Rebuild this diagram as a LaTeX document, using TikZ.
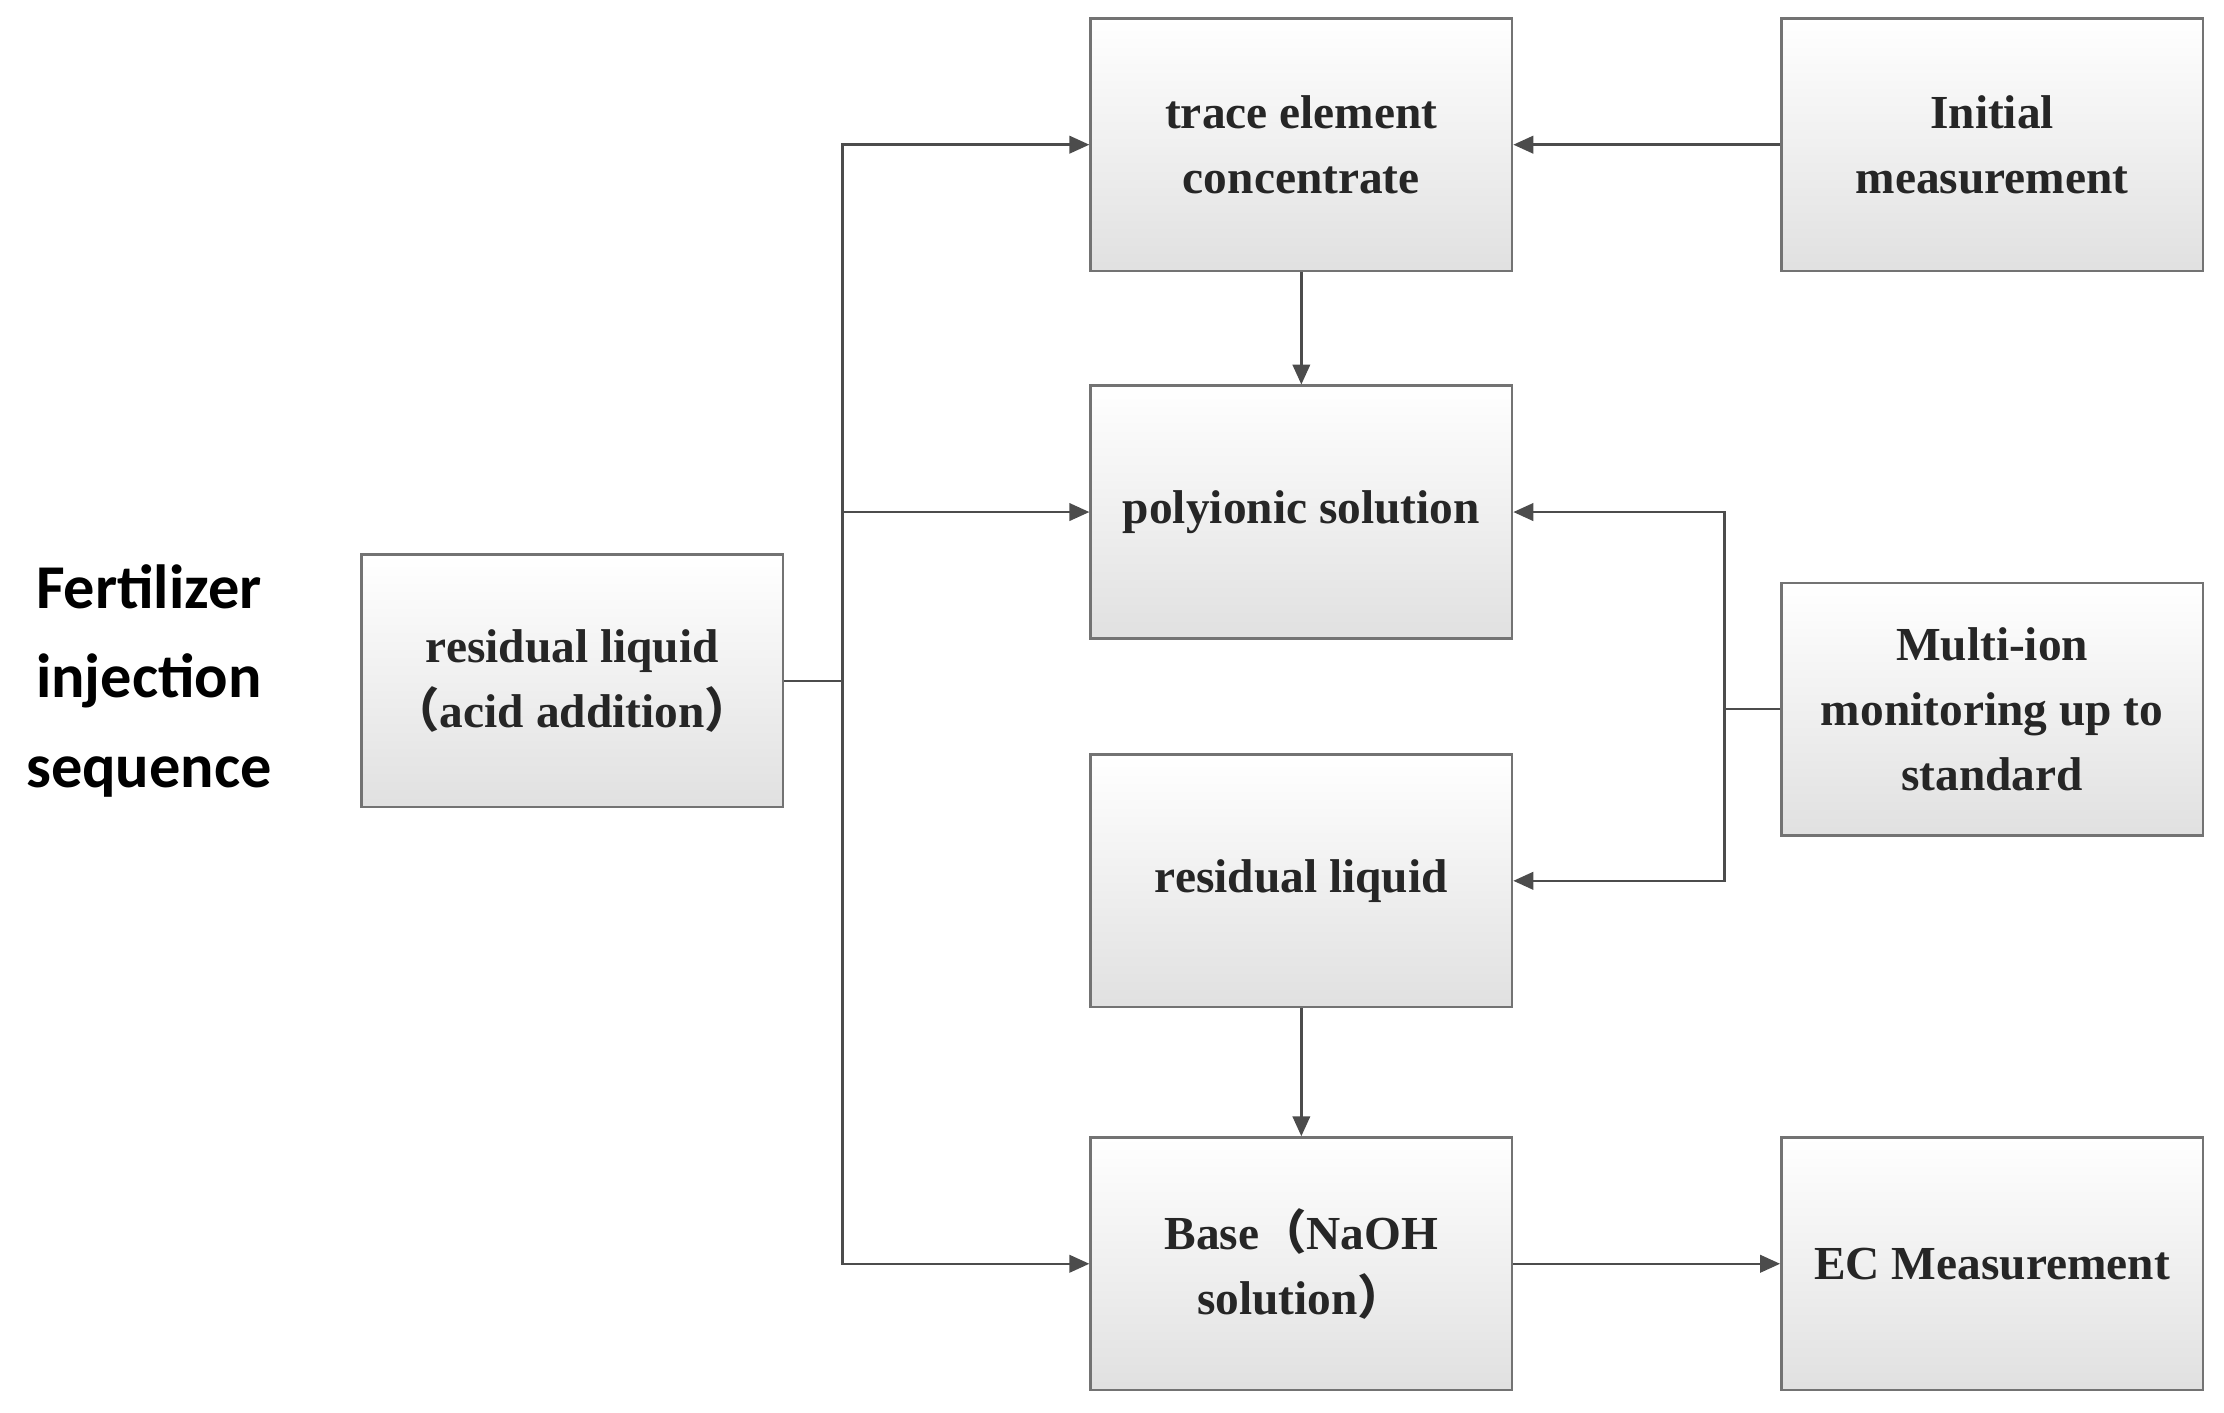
\documentclass[tikz,border=0pt]{standalone}
\usepackage{fontspec}
\setmainfont{Liberation Serif}
\newfontfamily\cjk{Noto Sans CJK SC}
\newfontfamily\ttl{Carlito}
\usetikzlibrary{arrows.meta}
\newcommand{\lp}{{\cjk （}}
\newcommand{\rp}{{\cjk ）}}
\begin{document}
\begin{tikzpicture}[x=0.01cm,y=-0.01cm,
  box/.style={draw=black!55,line width=0.5pt,top color=white,bottom color=black!12,
    minimum width=2.97cm,minimum height=1.78cm,align=center,
    font=\fontsize{9.5}{13}\selectfont\bfseries,text=black!85},
  ar/.style={draw=black!70,line width=0.5pt,-{Triangle[length=4pt,width=3.5pt]}},
  ln/.style={draw=black!70,line width=0.5pt}]
\useasboundingbox (0,0) rectangle (1568,996);
\node[font=\ttl\fontsize{12.5}{18}\selectfont\bfseries,align=center] (title) at (105,480) {Fertilizer\\injection\\sequence};
\node[box] (trace) at (917.5,102) {trace element\\concentrate};
\node[box] (poly) at (917.5,361) {polyionic solution};
\node[box] (res) at (917.5,621) {residual liquid};
\node[box] (base) at (917.5,891) {Base\lp NaOH\\solution\rp};
\node[box] (init) at (1404.5,102) {Initial\\measurement};
\node[box] (multi) at (1404.5,500) {Multi-ion\\monitoring up to\\standard};
\node[box] (ec) at (1404.5,891) {EC Measurement};
\node[box] (acid) at (403.5,480) {residual liquid\\\lp acid addition\rp};
\coordinate (j) at (594,480);
\coordinate (k) at (1216,500);
\draw[ln] (acid.east) -- (j);
\draw[ar] (j) |- (trace.west);
\draw[ar] (j) |- (poly.west);
\draw[ar] (j) |- (base.west);
\draw[ar] (init.west) -- (trace.east);
\draw[ar] (trace.south) -- (poly.north);
\draw[ar] (res.south) -- (base.north);
\draw[ln] (multi.west) -- (k);
\draw[ar] (k) |- (poly.east);
\draw[ar] (k) |- (res.east);
\draw[ar] (base.east) -- (ec.west);
\end{tikzpicture}
\end{document}
